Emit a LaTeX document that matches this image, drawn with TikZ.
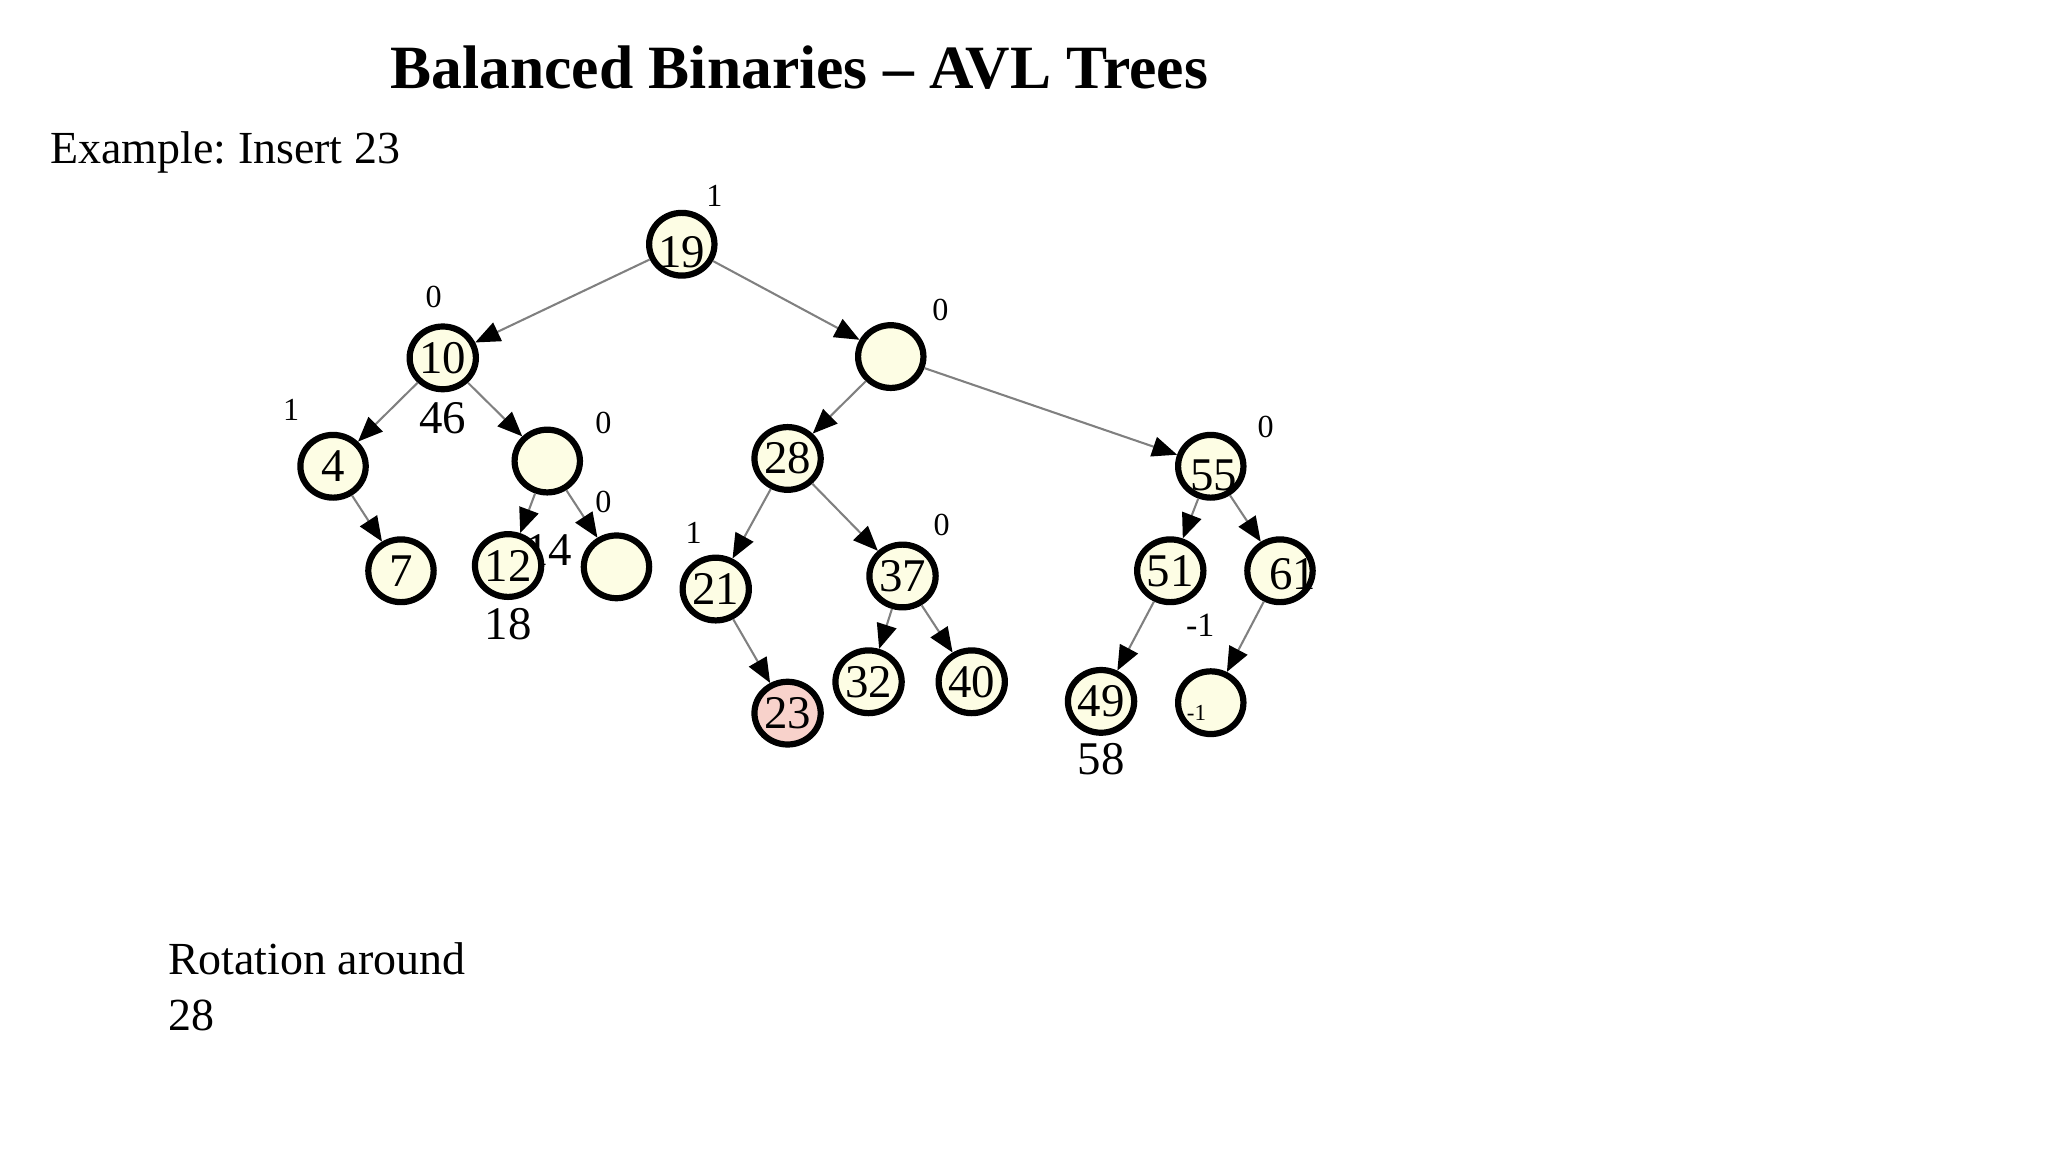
\documentclass[tikz,border=0pt]{standalone}
\usepackage{fontspec}
\setmainfont{Liberation Serif}
\usepackage{tikz}
\usetikzlibrary{shapes.geometric}
\usetikzlibrary{arrows.meta}
\frenchspacing
\definecolor{avlfill}{HTML}{FDFDE4}
\definecolor{newfill}{HTML}{F8D2CB}
\tikzstyle{avl}=[
        ellipse,
        draw,
        line width=1.35pt,
        fill=avlfill,
        minimum width=0.5cm,
        minimum height=0.48cm,
        inner sep=0pt,
        font=\fontsize{10.2}{11}\selectfont
]
\tikzstyle{nouveau}=[avl,fill=newfill]
\tikzstyle{cle}=[inner sep=0pt,font=\fontsize{10.2}{11}\selectfont]
\tikzstyle{bal}=[inner sep=0pt,font=\fontsize{7}{8}\selectfont]
\tikzstyle{petit}=[inner sep=0pt,font=\fontsize{5}{5}\selectfont]
\tikzstyle{texte}=[inner sep=0pt,font=\fontsize{10}{12.2}\selectfont]
\tikzstyle{fils}=[-{Triangle[length=5.4pt,width=4.4pt,color=black]},draw=black!50,line width=0.45pt]

\begin{document}
\begin{tikzpicture}[x=0.01cm,y=-0.01cm]
\useasboundingbox (0,0) rectangle (1568,882);
\node[inner sep=0pt,font=\fontsize{13.4}{16}\selectfont\bfseries] (titre) at (612,52) {Balanced Binaries -- AVL Trees};
\node[texte,anchor=west] (exemple) at (38,117) {Example: Insert 23};
\node[texte,anchor=north west,align=left] (rotation) at (128,721) {Rotation around\\28};
%cles
\node[cle] (k14) at (420,421) {14};
\node[cle] (k46) at (339,320) {46};
\node[cle] (k18) at (389,478) {18};
\node[cle] (k58) at (843,581) {58};
%noeuds
\node[avl,label={[cle,yshift=-1.7pt]center:19}] (n19) at (522,187) {};
\node[avl] (n10) at (339,274) {10};
\node[avl] (nr) at (682,273) {};
\node[avl] (n4) at (255,357) {4};
\node[avl] (nm) at (419,353) {};
\node[avl] (n28) at (603,351) {28};
\node[avl,label={[cle,xshift=0.6pt,yshift=-2pt]center:55}] (n55) at (927,357) {};
\node[avl] (n7) at (307,437) {7};
\node[avl] (n12) at (389,433) {12};
\node[avl] (ne) at (472,434) {};
\node[avl] (n21) at (548,451) {21};
\node[avl] (n37) at (691,441) {37};
\node[nouveau] (n23) at (603,546) {23};
\node[avl] (n32) at (665,522) {32};
\node[avl] (n40) at (744,522) {40};
\node[avl] (n51) at (896,437) {51};
\node[avl,label={[cle,xshift=2.8pt,yshift=-0.8pt]center:61}] (n61) at (980,437) {};
\node[avl] (n49) at (843,537) {49};
\node[avl,label={[petit,xshift=-3.1pt,yshift=-2.3pt]center:-1}] (nf) at (927,538) {};
%equilibres
\node[bal] (b19) at (547,150) {1};
\node[bal] (b10) at (332,227) {0};
\node[bal] (br) at (720,237) {0};
\node[bal] (b4) at (223,314) {1};
\node[bal] (bm) at (462,324) {0};
\node[bal] (b55) at (969,327) {0};
\node[bal] (be) at (462,384) {0};
\node[bal] (b21) at (531,408) {1};
\node[bal] (b37) at (721,402) {0};
\node[bal,font=\fontsize{7.4}{8}\selectfont] (b51) at (919,479) {-1};
%fleches
\draw[fils] (n19) -- (n10);
\draw[fils] (n19) -- (nr);
\draw[fils] (n10) -- (n4);
\draw[fils] (n10) -- (nm);
\draw[fils] (nr) -- (n28);
\draw[fils] (nr) -- (n55);
\draw[fils] (n4) -- (n7);
\draw[fils] (nm) -- (n12);
\draw[fils] (nm) -- (ne);
\draw[fils] (n28) -- (n21);
\draw[fils] (n28) -- (n37);
\draw[fils] (n21) -- (n23);
\draw[fils] (n37) -- (n32);
\draw[fils] (n37) -- (n40);
\draw[fils] (n55) -- (n51);
\draw[fils] (n55) -- (n61);
\draw[fils] (n51) -- (n49);
\draw[fils] (n61) -- (nf);
\end{tikzpicture}
\end{document}
